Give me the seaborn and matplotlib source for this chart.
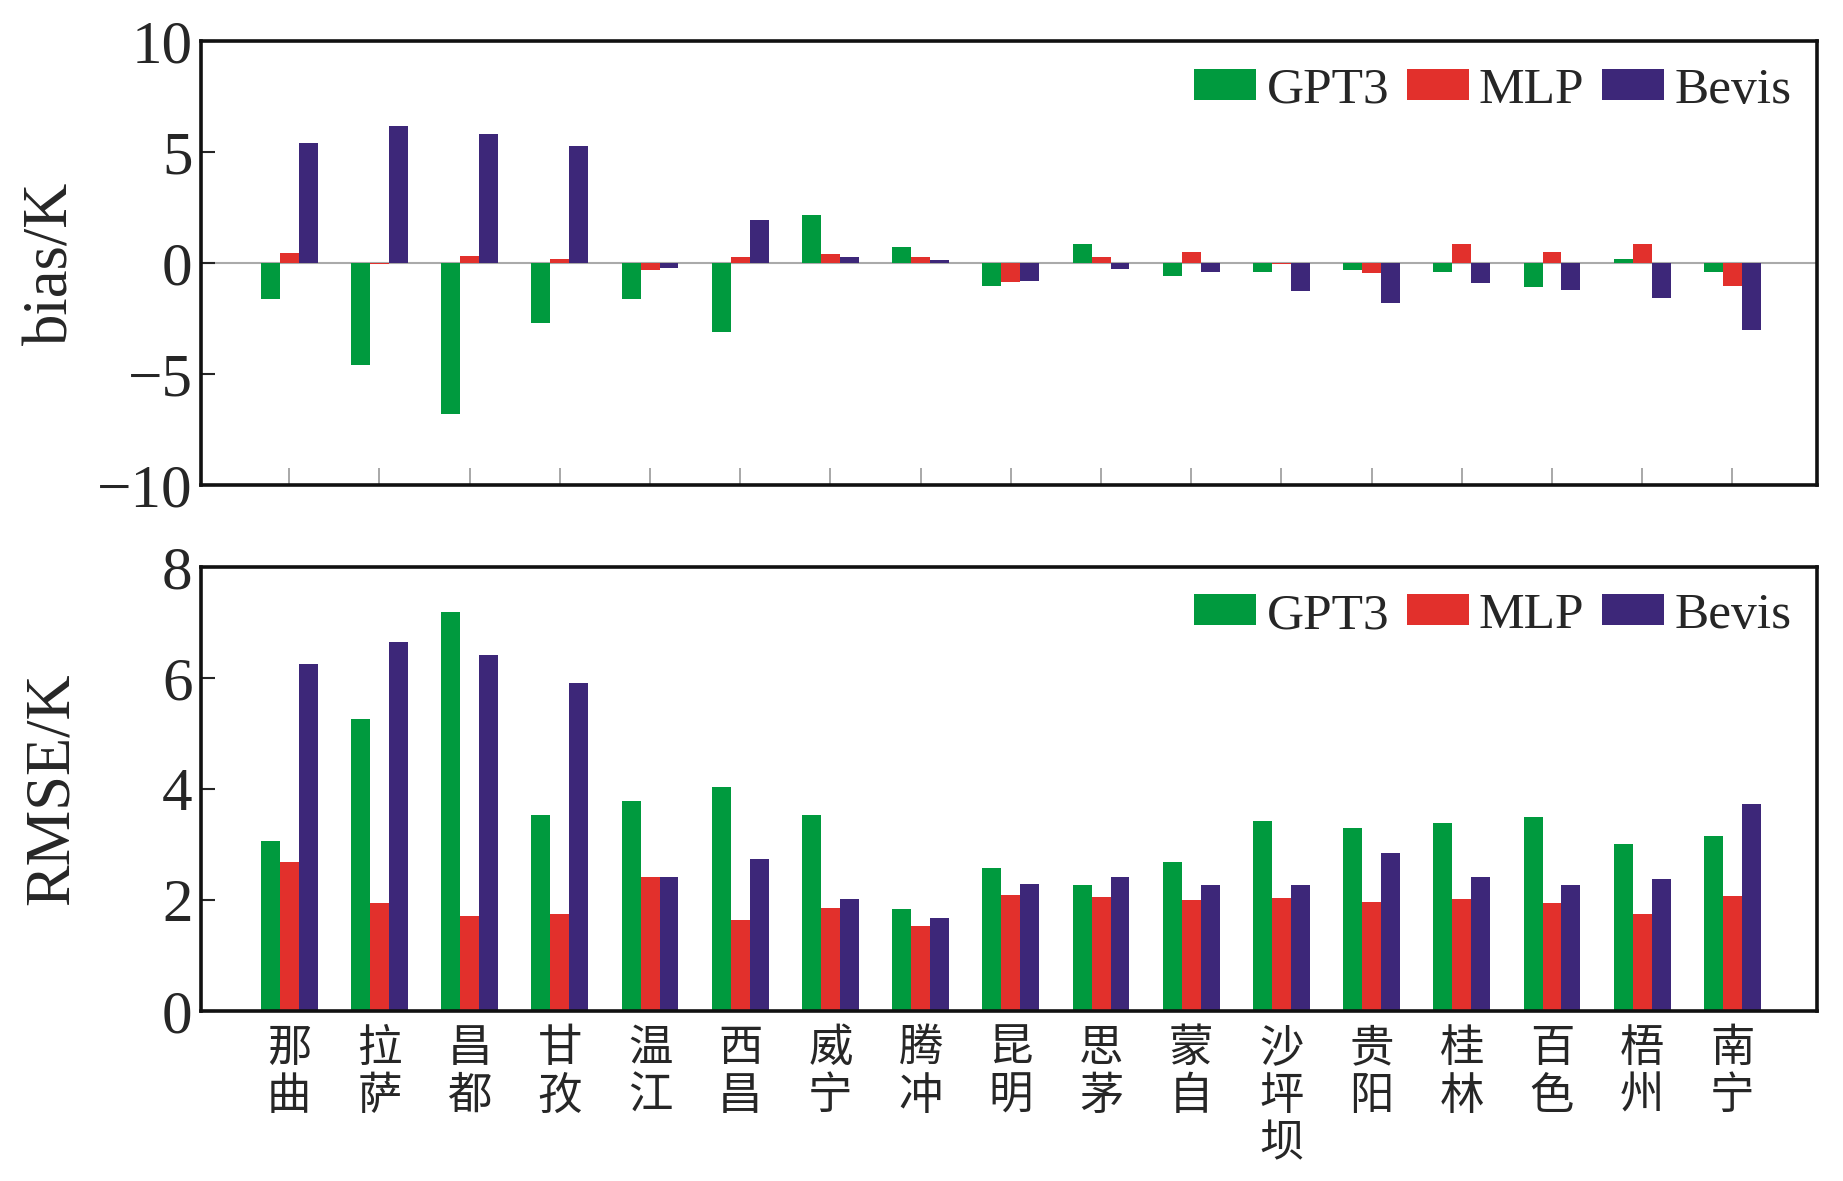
import numpy as np
import pandas as pd
import matplotlib
matplotlib.use('Agg')
import matplotlib.pyplot as plt
import seaborn as sns

# stations, values
stations = ['那曲', '拉萨', '昌都', '甘孜', '温江', '西昌', '威宁', '腾冲', '昆明',
            '思茅', '蒙自', '沙坪坝', '贵阳', '桂林', '百色', '梧州', '南宁']
models = ['GPT3', 'MLP', 'Bevis']

bias_gpt3 = [-1.6, -4.6, -6.8, -2.7, -1.6, -3.1, 2.2, 0.75, -1.03, 0.88, -0.59, -0.4, -0.3, -0.4, -1.06, 0.19, -0.4]
bias_mlp = [0.46, -0.05, 0.34, 0.18, -0.3, 0.27, 0.41, 0.27, -0.84, 0.27, 0.53, -0.05, -0.44, 0.88, 0.52, 0.88, -1.03]
bias_bevis = [5.41, 6.18, 5.81, 5.3, -0.22, 1.97, 0.27, 0.15, -0.81, -0.25, -0.4, -1.24, -1.77, -0.88, -1.18, -1.58, -2.98]

rmse_gpt3 = [3.06, 5.26, 7.18, 3.53, 3.78, 4.04, 3.53, 1.84, 2.58, 2.26, 2.68, 3.42, 3.30, 3.39, 3.50, 3.00, 3.15]
rmse_mlp = [2.68, 1.94, 1.71, 1.74, 2.42, 1.63, 1.85, 1.53, 2.09, 2.05, 1.99, 2.04, 1.96, 2.02, 1.94, 1.75, 2.07]
rmse_bevis = [6.25, 6.64, 6.42, 5.90, 2.41, 2.74, 2.02, 1.68, 2.28, 2.42, 2.26, 2.27, 2.84, 2.41, 2.27, 2.38, 3.73]

colors = ['#009a3e', '#e2302c', '#3d2779']


def to_long(a, b, c):
    rows = []
    for vals, m in zip([a, b, c], models):
        for s, v in zip(stations, vals):
            rows.append({'station': s, 'model': m, 'value': v})
    return pd.DataFrame(rows)


sns.set_theme(style='white')
plt.rcParams['font.family'] = ['Liberation Serif', 'Noto Sans CJK SC']
plt.rcParams['axes.linewidth'] = 2.6

fig = plt.figure(figsize=(18.43, 11.81), dpi=100)
ax1 = fig.add_axes([0.109, 0.589, 0.877, 0.376])
ax2 = fig.add_axes([0.109, 0.144, 0.877, 0.376])

panels = [
    (ax1, to_long(bias_gpt3, bias_mlp, bias_bevis), 'bias/K', (-10, 10), [-10, -5, 0, 5, 10]),
    (ax2, to_long(rmse_gpt3, rmse_mlp, rmse_bevis), 'RMSE/K', (0, 8), [0, 2, 4, 6, 8]),
]

for ax, df, ylab, ylim, yt in panels:
    sns.barplot(data=df, x='station', y='value', hue='model', hue_order=models,
                palette=colors, width=0.63, ax=ax, saturation=1, edgecolor='none')
    ax.set_ylim(*ylim)
    ax.set_yticks(yt)
    ax.set_yticklabels(['\u2212' + str(abs(t)) if t < 0 else str(t) for t in yt],
                       fontsize=44, family='Liberation Serif')
    ax.set_xlim(-0.98, len(stations) - 0.06)
    ax.set_xlabel('')
    ax.set_ylabel(ylab, fontsize=45, family='Liberation Serif')
    ax.yaxis.set_label_coords(-0.074, 0.5)
    ax.tick_params(axis='y', left=True, direction='in', length=10, width=1.5, pad=6)
    for sp in ax.spines.values():
        sp.set_color('#111111')
    leg = ax.legend(loc='upper right', ncol=3, frameon=False, fontsize=37,
                    handlelength=1.2, handleheight=0.55, handletextpad=0.2,
                    columnspacing=0.35, borderaxespad=0.1)
    for t in leg.get_texts():
        t.set_family('Liberation Serif')

ax1.axhline(0, color='#aaaaaa', lw=1.5, zorder=0)
ax1.set_xticks(range(len(stations)))
ax1.set_xticklabels([])
ax1.tick_params(axis='x', bottom=True, direction='in', length=12, width=1.2, color='#999999')

ax2.set_xticks(range(len(stations)))
ax2.set_xticklabels(['\n'.join(s) for s in stations], fontsize=32,
                    family=['Noto Sans CJK SC'], linespacing=1.05)
ax2.tick_params(axis='x', length=0, pad=10)

fig.savefig('out.png', dpi=100)
